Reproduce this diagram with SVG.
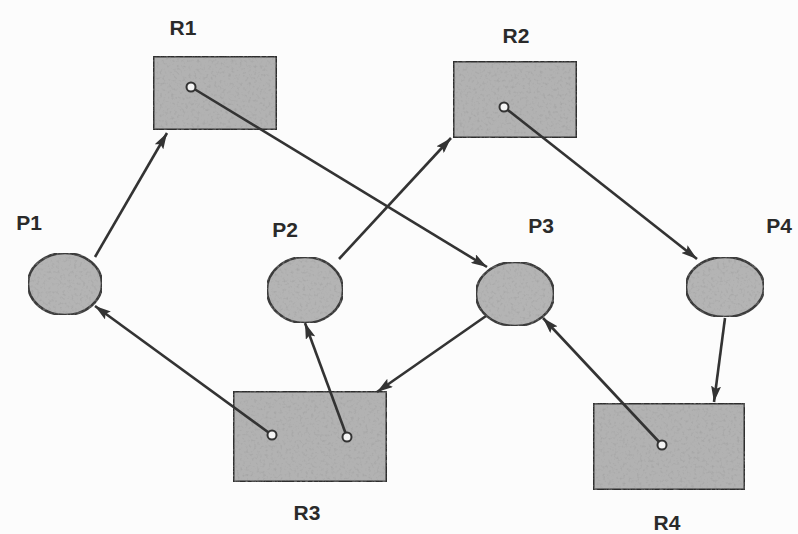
<svg xmlns="http://www.w3.org/2000/svg" width="798" height="534" viewBox="0 0 798 534">
<defs>
<filter id="grain" x="0" y="0" width="100%" height="100%">
<feTurbulence type="fractalNoise" baseFrequency="0.35" numOctaves="2" seed="3" result="n"/>
<feColorMatrix in="n" type="matrix" values="0 0 0 0 0.3  0 0 0 0 0.3  0 0 0 0 0.3  0 0 0 -1.2 0.6" result="dots"/>
<feComposite in="dots" in2="SourceGraphic" operator="atop" result="tex"/>
</filter>
<marker id="arr" viewBox="0 0 16 10" refX="16" refY="5" markerWidth="16" markerHeight="10" markerUnits="userSpaceOnUse" orient="auto">
<path d="M0,0 L16,5 L0,10 L3,5 Z" fill="#333"/>
</marker>
<style>
.res{fill:#b2b2b2;stroke:#2e2e2e;stroke-width:3}
.proc{fill:#b4b4b4;stroke:#3a3a3a;stroke-width:2.5}
.dot{fill:#f4f4f4;stroke:#333;stroke-width:2}
.lbl{font-family:"Liberation Sans",Arial,sans-serif;font-weight:bold;font-size:21px;fill:#2a2a2a;text-anchor:middle}
.edge{stroke:#333;stroke-width:2.6;fill:none;marker-end:url(#arr)}
</style>
</defs>
<rect width="798" height="534" fill="#fcfcfc"/>
<g id="R1">
<rect class="res" x="153" y="56" width="124" height="74" filter="url(#grain)"/>
<text class="lbl" x="183" y="35">R1</text>
</g>
<g id="R2">
<rect class="res" x="453" y="61" width="124" height="77" filter="url(#grain)"/>
<text class="lbl" x="516" y="43">R2</text>
</g>
<g id="R3">
<rect class="res" x="233" y="391" width="154" height="91" filter="url(#grain)"/>
<text class="lbl" x="307" y="520">R3</text>
</g>
<g id="R4">
<rect class="res" x="593" y="403" width="152" height="87" filter="url(#grain)"/>
<text class="lbl" x="667" y="530">R4</text>
</g>
<g id="P1">
<ellipse class="proc" cx="65" cy="284" rx="37" ry="31" filter="url(#grain)"/>
<text class="lbl" x="29" y="230">P1</text>
</g>
<g id="P2">
<ellipse class="proc" cx="305" cy="290" rx="38" ry="33" filter="url(#grain)"/>
<text class="lbl" x="285" y="237">P2</text>
</g>
<g id="P3">
<ellipse class="proc" cx="515" cy="294" rx="39" ry="32" filter="url(#grain)"/>
<text class="lbl" x="541" y="233">P3</text>
</g>
<g id="P4">
<ellipse class="proc" cx="725" cy="287" rx="39" ry="30" filter="url(#grain)"/>
<text class="lbl" x="779" y="233">P4</text>
</g>
<g id="connectors">
<line class="edge" x1="95" y1="257" x2="167" y2="133"/>
<line class="edge" x1="191" y1="87" x2="487" y2="267"/>
<line class="edge" x1="339" y1="259" x2="451" y2="138"/>
<line class="edge" x1="504" y1="107" x2="697" y2="259"/>
<line class="edge" x1="272" y1="435" x2="95" y2="306"/>
<line class="edge" x1="347" y1="437" x2="305" y2="323"/>
<line class="edge" x1="486" y1="316" x2="377" y2="392"/>
<line class="edge" x1="662" y1="445" x2="543" y2="318"/>
<line class="edge" x1="725" y1="318" x2="714" y2="402"/>
</g>
<g id="instances">
<circle class="dot" cx="191" cy="87" r="4.5"/>
<circle class="dot" cx="504" cy="107" r="4.5"/>
<circle class="dot" cx="272" cy="435" r="4.5"/>
<circle class="dot" cx="347" cy="437" r="4.5"/>
<circle class="dot" cx="662" cy="445" r="4.5"/>
</g>
</svg>
